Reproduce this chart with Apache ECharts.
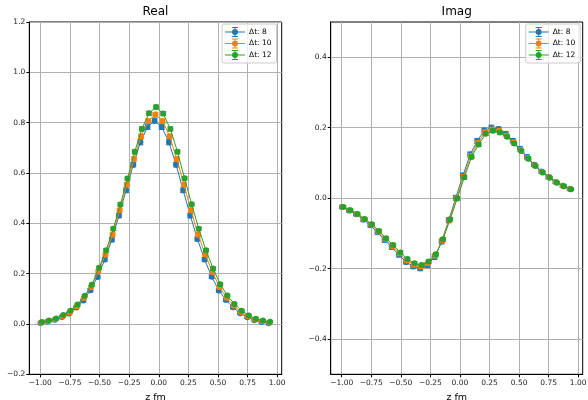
<!DOCTYPE html>
<html>
<head>
<meta charset="utf-8">
<script src="https://cdn.jsdelivr.net/npm/echarts@6/dist/echarts.min.js"></script>
<style>
  html, body { margin: 0; padding: 0; background: #fff; }
  #chart { width: 588px; height: 400px; }
</style>
</head>
<body>
<div id="chart"></div>
<script>
// ---- data ----
const seriesNames = ['Δt: 8', 'Δt: 10', 'Δt: 12'];
const seriesColors = ['#1f77b4', '#ff7f0e', '#2ca02c'];
// small horizontal offsets between the three series (as in the figure)
const zShift = [-0.006, 0.0, 0.006];

const z = [-0.992, -0.932, -0.872, -0.811, -0.751, -0.691, -0.631, -0.571, -0.510, -0.450,
  -0.390, -0.330, -0.270, -0.209, -0.149, -0.089, -0.029, 0.031, 0.092, 0.152,
  0.212, 0.272, 0.332, 0.393, 0.453, 0.513, 0.573, 0.633, 0.694, 0.754,
  0.814, 0.874, 0.934];

const real8 = [0.004, 0.010, 0.017, 0.028, 0.042, 0.065, 0.093, 0.134, 0.187, 0.256,
  0.335, 0.431, 0.531, 0.633, 0.722, 0.783, 0.808, 0.783, 0.722, 0.633,
  0.531, 0.431, 0.338, 0.256, 0.188, 0.133, 0.095, 0.066, 0.043, 0.027,
  0.015, 0.008, 0.003];
const real10 = [0.006, 0.012, 0.019, 0.031, 0.046, 0.070, 0.103, 0.147, 0.209, 0.276,
  0.355, 0.452, 0.554, 0.656, 0.746, 0.806, 0.832, 0.806, 0.746, 0.656,
  0.554, 0.452, 0.355, 0.276, 0.207, 0.147, 0.104, 0.072, 0.048, 0.031,
  0.018, 0.011, 0.006];
const real12 = [0.008, 0.014, 0.022, 0.036, 0.053, 0.077, 0.112, 0.156, 0.223, 0.293,
  0.378, 0.475, 0.578, 0.684, 0.775, 0.837, 0.862, 0.836, 0.775, 0.684,
  0.579, 0.476, 0.378, 0.293, 0.220, 0.158, 0.113, 0.079, 0.053, 0.034,
  0.021, 0.014, 0.009];

const imag8 = [-0.025, -0.035, -0.046, -0.061, -0.077, -0.097, -0.119, -0.139, -0.161, -0.181,
  -0.194, -0.199, -0.190, -0.167, -0.123, -0.063, 0.001, 0.064, 0.124, 0.162,
  0.192, 0.200, 0.196, 0.183, 0.163, 0.140, 0.117, 0.095, 0.076, 0.060,
  0.046, 0.035, 0.026];
const imag10 = [-0.025, -0.034, -0.045, -0.060, -0.075, -0.095, -0.116, -0.136, -0.157, -0.177,
  -0.189, -0.194, -0.185, -0.163, -0.120, -0.061, 0.000, 0.061, 0.120, 0.157,
  0.187, 0.195, 0.191, 0.178, 0.159, 0.137, 0.114, 0.093, 0.074, 0.059,
  0.045, 0.034, 0.025];
const imag12 = [-0.025, -0.034, -0.045, -0.059, -0.074, -0.093, -0.114, -0.133, -0.154, -0.173,
  -0.185, -0.190, -0.180, -0.159, -0.117, -0.060, -0.001, 0.059, 0.117, 0.152,
  0.183, 0.191, 0.186, 0.174, 0.155, 0.134, 0.112, 0.091, 0.073, 0.058,
  0.044, 0.034, 0.025];

const realErr = [
  [0.004, 0.004, 0.004, 0.005, 0.005, 0.006, 0.006, 0.007, 0.007, 0.008, 0.008, 0.009, 0.009, 0.009, 0.010, 0.010, 0.010,
   0.010, 0.010, 0.009, 0.009, 0.009, 0.008, 0.008, 0.007, 0.007, 0.006, 0.006, 0.005, 0.005, 0.004, 0.004, 0.004],
  [0.003, 0.003, 0.004, 0.004, 0.005, 0.005, 0.006, 0.006, 0.007, 0.007, 0.007, 0.008, 0.008, 0.008, 0.008, 0.009, 0.009,
   0.009, 0.008, 0.008, 0.008, 0.008, 0.007, 0.007, 0.007, 0.006, 0.006, 0.005, 0.005, 0.004, 0.004, 0.003, 0.003],
  [0.003, 0.003, 0.003, 0.004, 0.004, 0.005, 0.005, 0.006, 0.006, 0.006, 0.007, 0.007, 0.007, 0.008, 0.008, 0.008, 0.008,
   0.008, 0.008, 0.008, 0.007, 0.007, 0.007, 0.006, 0.006, 0.006, 0.005, 0.005, 0.004, 0.004, 0.003, 0.003, 0.003]
];
const imagErr = [
  [0.004, 0.004, 0.004, 0.005, 0.005, 0.005, 0.006, 0.006, 0.006, 0.006, 0.006, 0.007, 0.007, 0.007, 0.007, 0.007, 0.007,
   0.007, 0.007, 0.007, 0.007, 0.007, 0.006, 0.006, 0.006, 0.006, 0.006, 0.005, 0.005, 0.005, 0.004, 0.004, 0.004],
  [0.003, 0.003, 0.004, 0.004, 0.004, 0.005, 0.005, 0.005, 0.005, 0.005, 0.006, 0.006, 0.006, 0.006, 0.006, 0.006, 0.006,
   0.006, 0.006, 0.006, 0.006, 0.006, 0.005, 0.005, 0.005, 0.005, 0.005, 0.004, 0.004, 0.004, 0.003, 0.003, 0.003],
  [0.003, 0.003, 0.003, 0.003, 0.004, 0.004, 0.004, 0.004, 0.005, 0.005, 0.005, 0.005, 0.005, 0.005, 0.005, 0.005, 0.005,
   0.005, 0.005, 0.005, 0.005, 0.005, 0.005, 0.004, 0.004, 0.004, 0.004, 0.004, 0.003, 0.003, 0.003, 0.003, 0.003]
];

const xTicks = [-1.0, -0.75, -0.5, -0.25, 0.0, 0.25, 0.5, 0.75, 1.0];
const realYTicks = [-0.2, 0.0, 0.2, 0.4, 0.6, 0.8, 1.0, 1.2];
const imagYTicks = [-0.4, -0.2, 0.0, 0.2, 0.4];

// ---- helpers ----
const FONT = 'DejaVu Sans';
function fmt(v, d) {
  const s = Math.abs(v).toFixed(d);
  return (v < -1e-9 ? '\u2212' : '') + s;
}
function errRender(params, api) {
  const x = api.value(0), lo = api.value(1), hi = api.value(2);
  const p1 = api.coord([x, lo]);
  const p2 = api.coord([x, hi]);
  const cw = 3;
  const st = { stroke: api.visual('color'), lineWidth: 1 };
  return {
    type: 'group',
    children: [
      { type: 'line', shape: { x1: p1[0], y1: p1[1], x2: p2[0], y2: p2[1] }, style: st },
      { type: 'line', shape: { x1: p1[0] - cw, y1: p1[1], x2: p1[0] + cw, y2: p1[1] }, style: st },
      { type: 'line', shape: { x1: p2[0] - cw, y1: p2[1], x2: p2[0] + cw, y2: p2[1] }, style: st }
    ]
  };
}

const legendIcon = 'path://M0,4.5H20V5.5H0Z M9.5,0.5H10.5V9.5H9.5Z M7,0H13V1H7Z M7,9H13V10H7Z M13,5A3,3 0 1,1 7,5A3,3 0 1,1 13,5Z';

function makeSeries(gridIdx, values, errs) {
  const out = [];
  values.forEach((vals, i) => {
    const pts = z.map((zz, k) => [zz + zShift[i], vals[k]]);
    out.push({
      type: 'line',
      name: seriesNames[i],
      xAxisIndex: gridIdx, yAxisIndex: gridIdx,
      data: pts,
      symbol: 'circle', symbolSize: 6, showAllSymbol: true,
      lineStyle: { color: seriesColors[i], width: 1 },
      itemStyle: { color: seriesColors[i], borderWidth: 0 },
      emphasis: { disabled: true },
      animation: false,
      z: 2 + i
    });
    out.push({
      type: 'custom',
      name: seriesNames[i],
      xAxisIndex: gridIdx, yAxisIndex: gridIdx,
      data: z.map((zz, k) => [zz + zShift[i], vals[k] - errs[i][k], vals[k] + errs[i][k]]),
      encode: { x: 0, y: [1, 2] },
      renderItem: errRender,
      itemStyle: { color: seriesColors[i], opacity: 0.8 },
      animation: false,
      silent: true,
      z: 2 + i
    });
  });
  return out;
}

function xAxis(gridIdx) {
  return {
    type: 'value', gridIndex: gridIdx,
    min: -1.093, max: 1.038,
    name: 'z fm', nameLocation: 'middle', nameGap: 13.5,
    nameTextStyle: { fontFamily: FONT, fontSize: 9.5, color: '#000' },
    axisLine: { show: true, onZero: false, lineStyle: { color: '#000', width: 1 } },
    axisTick: { show: true, length: 3, customValues: xTicks, lineStyle: { color: '#000', width: 1 } },
    axisLabel: { customValues: xTicks, margin: 5, fontFamily: FONT, fontSize: 7.5, color: '#222',
      formatter: v => fmt(v, 2) },
    splitLine: { show: true, lineStyle: { color: '#b0b0b0', width: 1 } }
  };
}
function yAxis(gridIdx, min, max, ticks) {
  return {
    type: 'value', gridIndex: gridIdx,
    min: min, max: max,
    axisLine: { show: true, onZero: false, lineStyle: { color: '#000', width: 1 } },
    axisTick: { show: true, length: 3, customValues: ticks, lineStyle: { color: '#000', width: 1 } },
    axisLabel: { customValues: ticks, margin: 4, fontFamily: FONT, fontSize: 7.5, color: '#222',
      formatter: v => fmt(v, 1) },
    splitLine: { show: true, lineStyle: { color: '#b0b0b0', width: 1 } }
  };
}
function legend(left) {
  return {
    left: left, top: 24,
    orient: 'vertical',
    data: seriesNames.map(n => ({ name: n, icon: legendIcon })),
    itemWidth: 20, itemHeight: 10, itemGap: 1.5,
    padding: [3, 5, 3, 3],
    backgroundColor: 'rgba(255,255,255,0.8)',
    borderColor: '#cccccc', borderWidth: 1, borderRadius: 2,
    itemStyle: { borderWidth: 0 },
    textStyle: { fontFamily: FONT, fontSize: 7.5, color: '#000', padding: [0, 0, 0, -1] },
    selectedMode: false
  };
}

const chart = echarts.init(document.getElementById('chart'), null, { renderer: 'canvas' });
chart.setOption({
  animation: false,
  backgroundColor: '#fff',
  textStyle: { fontFamily: FONT },
  grid: [
    { left: 29.3, top: 22, width: 252.4, height: 352.3, show: true, borderColor: '#000', borderWidth: 1,
      backgroundColor: 'transparent', containLabel: false, outerBoundsMode: 'none' },
    { left: 330.7, top: 22, width: 252, height: 352.3, show: true, borderColor: '#000', borderWidth: 1,
      backgroundColor: 'transparent', containLabel: false, outerBoundsMode: 'none' }
  ],
  xAxis: [xAxis(0), xAxis(1)],
  yAxis: [yAxis(0, -0.2, 1.2, realYTicks), yAxis(1, -0.5, 0.5, imagYTicks)],
  legend: [legend(222), legend(525.7)],
  graphic: [
    { type: 'text', x: 155.5, y: 12, style: { text: 'Real', textAlign: 'center', textVerticalAlign: 'middle', font: '12px "DejaVu Sans"', fill: '#000' } },
    { type: 'text', x: 456.7, y: 12, style: { text: 'Imag', textAlign: 'center', textVerticalAlign: 'middle', font: '12px "DejaVu Sans"', fill: '#000' } }
  ],
  series: [].concat(makeSeries(0, [real8, real10, real12], realErr),
                    makeSeries(1, [imag8, imag10, imag12], imagErr))
});
</script>
</body>
</html>
